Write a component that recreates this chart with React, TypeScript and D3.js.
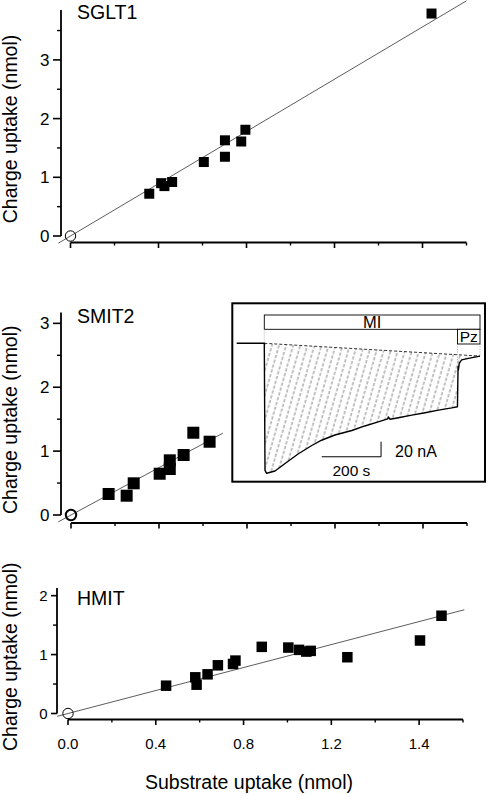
import React from 'react';
import * as d3 from 'd3';

// ---------- data ----------
const sgltX = [0.358, 0.412, 0.427, 0.462, 0.606, 0.702, 0.702, 0.776, 0.795, 1.641];
const sgltY = [0.72, 0.9, 0.85, 0.92, 1.26, 1.63, 1.35, 1.61, 1.81, 3.79];
const sgltSlope = 2.226;
const sgltFitRange = [-0.055, 1.8];

const smitX = [0.171, 0.253, 0.285, 0.403, 0.449, 0.449, 0.512, 0.556, 0.63];
const smitY = [0.329, 0.302, 0.496, 0.646, 0.856, 0.72, 0.939, 1.288, 1.147];
const smitSlope = 1.856;
const smitFitRange = [-0.058, 0.69];

const hmitX = [0.447, 0.58, 0.586, 0.636, 0.683, 0.752, 0.763, 0.883, 1.004, 1.053, 1.086, 1.106, 1.273, 1.604, 1.702];
const hmitY = [0.472, 0.614, 0.489, 0.665, 0.818, 0.841, 0.898, 1.131, 1.119, 1.08, 1.051, 1.063, 0.955, 1.239, 1.659];
const hmitSlope = 0.975;
const hmitFitRange = [-0.05, 1.806];

const xMajorTicks = [0, 0.4, 0.8, 1.2, 1.6];
const xTickLabels = ['0.0', '0.4', '0.8', '1.2', '1.4'];
const xMinorTicks = [0.2, 0.6, 1.0, 1.4, 1.8];

const yMajorTop = [0, 1, 2, 3];
const yMinorTop = [0.5, 1.5, 2.5, 3.5];
const yMajorMid = [0, 1, 2, 3];
const yMinorMid = [0.5, 1.5, 2.5];
const yMajorBot = [0, 1, 2];
const yMinorBot = [0.5, 1.5];

const panelNames = ['SGLT1', 'SMIT2', 'HMIT'];
const yTitle = 'Charge uptake (nmol)';
const xTitle = 'Substrate uptake (nmol)';

// inset trace: time (s), current (nA)
const traceT = [0, 93, 95.4, 101, 129, 163, 208, 253, 286, 331, 388, 432, 477, 509, 511, 517, 545, 590, 635, 680, 725, 744, 746, 747, 748, 750, 758, 781, 820];
const traceI = [0, 0, -169, -173, -170, -160, -147, -136, -129, -122, -116, -110, -104.5, -100.5, -98, -101, -99, -95.6, -92.5, -89, -86, -84.5, -31, -35.6, -33, -26.7, -22, -20, -17];
const driftT = [93, 820];
const driftI = [0, -17];
const miPeriod = [93, 820];
const pzPeriod = [744, 820];
const scaleBarT = [486.5, 286.5];
const scaleBarI = [-131, -151];

const FONT = '"Liberation Sans", Arial, Helvetica, sans-serif';

type PanelProps = {
  idx: number;
  xs: number[];
  ys: number[];
  slope: number;
  fit: number[];
  xRange: [number, number];
  xAxisY: number;
  yTop: number;
  yRange: [number, number];
  yAxisX: number;
  yMajor: number[];
  yMinor: number[];
  sq: number;
  circleStroke: number;
  tickFont: number;
  yMajLen: number;
  showXLabels: boolean;
  labelBaseline: number;
};

function Panel(p: PanelProps) {
  const x = d3.scaleLinear().domain([0, 1.8]).range(p.xRange);
  const y = d3.scaleLinear().domain([0, p.yTop]).range(p.yRange);
  const fitLine = d3
    .line<number>()
    .x((d) => x(d))
    .y((d) => y(d * p.slope));
  const yTitleCenter = (y(0) + y(p.yTop)) / 2 + 6;
  return (
    <g>
      {/* y axis */}
      <line x1={p.yAxisX} x2={p.yAxisX} y1={y(0)} y2={y(p.yTop)} stroke="#000" strokeWidth={1.8} />
      {p.yMajor.map((v) => (
        <g key={'ym' + v}>
          <line x1={p.yAxisX - p.yMajLen} x2={p.yAxisX} y1={y(v)} y2={y(v)} stroke="#000" strokeWidth={1.6} />
          <text
            x={p.yAxisX - p.yMajLen - 3.5}
            y={y(v)}
            dy="0.36em"
            textAnchor="end"
            fontSize={p.tickFont}
            fontFamily={FONT}
          >
            {v}
          </text>
        </g>
      ))}
      {p.yMinor.map((v) => (
        <line key={'yn' + v} x1={p.yAxisX - 4} x2={p.yAxisX} y1={y(v)} y2={y(v)} stroke="#000" strokeWidth={1.4} />
      ))}
      {/* x axis */}
      <line x1={x(0)} x2={x(1.8)} y1={p.xAxisY} y2={p.xAxisY} stroke="#000" strokeWidth={1.8} />
      {xMajorTicks.map((v, i) => (
        <g key={'xm' + v}>
          <line x1={x(v)} x2={x(v)} y1={p.xAxisY} y2={p.xAxisY + 5.5} stroke="#000" strokeWidth={1.6} />
          {p.showXLabels && (
            <text x={x(v)} y={p.xAxisY + 29.5} textAnchor="middle" fontSize={15} fontFamily={FONT}>
              {xTickLabels[i]}
            </text>
          )}
        </g>
      ))}
      {xMinorTicks.map((v) => (
        <line key={'xn' + v} x1={x(v)} x2={x(v)} y1={p.xAxisY} y2={p.xAxisY + 3} stroke="#000" strokeWidth={1.4} />
      ))}
      {/* fit line */}
      <path d={fitLine(p.fit) || ''} stroke="#333" strokeWidth={0.8} fill="none" />
      {/* origin circle */}
      <circle cx={x(0)} cy={y(0)} r={5.2} fill="none" stroke="#000" strokeWidth={p.circleStroke} />
      {/* squares */}
      {p.xs.map((v, i) => (
        <rect
          key={i}
          x={x(v) - p.sq / 2}
          y={y(p.ys[i]) - p.sq / 2}
          width={p.sq}
          height={p.sq}
          fill="#000"
        />
      ))}
      {/* panel label */}
      <text x={77} y={p.labelBaseline} fontSize={19.5} fontFamily={FONT}>
        {panelNames[p.idx]}
      </text>
      {/* y title */}
      <text
        transform={`translate(16.5,${yTitleCenter}) rotate(-90)`}
        textAnchor="middle"
        fontSize={19.5}
        fontFamily={FONT}
      >
        {yTitle}
      </text>
    </g>
  );
}

function Inset() {
  const t = d3.scaleLinear().domain([0, 820]).range([236.7, 480]);
  const c = d3.scaleLinear().domain([0, -173]).range([343.3, 473.3]);
  const trace = d3
    .line<number>()
    .x((d) => t(traceT[d]))
    .y((d) => c(traceI[d]));
  const idx = traceT.map((_, i) => i);
  const drift = d3
    .line<number>()
    .x((d) => t(driftT[d]))
    .y((d) => c(driftI[d]));
  const startIdx = traceT.findIndex((v) => v >= miPeriod[0]);
  const areaPts: [number, number][] = [];
  for (let i = startIdx; i < traceT.length; i++) areaPts.push([t(traceT[i]), c(traceI[i])]);
  for (let k = driftT.length - 1; k >= 0; k--) areaPts.push([t(driftT[k]), c(driftI[k])]);
  const areaPath = 'M' + areaPts.map((q) => q.join(',')).join('L') + 'Z';

  const barTop = 315;
  const barBot = 329.3;
  const pzBot = 344;
  return (
    <g>
      <defs>
        <pattern
          id="hatch"
          patternUnits="userSpaceOnUse"
          width={6.8}
          height={10}
          patternTransform="rotate(16)"
        >
          <line x1={3} y1={0} x2={3} y2={10} stroke="#333" strokeWidth={0.6} strokeDasharray="3.4 1.6" />
        </pattern>
      </defs>
      <rect x={232.3} y={303.3} width={252.7} height={178.4} fill="#fff" stroke="#000" strokeWidth={2} />
      {/* MI bar */}
      <rect
        x={t(miPeriod[0])}
        y={barTop}
        width={t(miPeriod[1]) - t(miPeriod[0])}
        height={barBot - barTop}
        fill="#fff"
        stroke="#000"
        strokeWidth={0.9}
      />
      <text x={(t(miPeriod[0]) + t(miPeriod[1])) / 2} y={327.5} textAnchor="middle" fontSize={16.5} fontFamily={FONT}>
        MI
      </text>
      {/* Pz box */}
      <rect
        x={t(pzPeriod[0])}
        y={barBot}
        width={t(pzPeriod[1]) - t(pzPeriod[0])}
        height={pzBot - barBot}
        fill="#fff"
        stroke="#000"
        strokeWidth={0.9}
      />
      <text x={(t(pzPeriod[0]) + t(pzPeriod[1])) / 2} y={341.8} textAnchor="middle" fontSize={15.5} fontFamily={FONT}>
        Pz
      </text>
      {/* dotted guides */}
      <line x1={t(pzPeriod[0])} x2={t(pzPeriod[0])} y1={pzBot} y2={c(-26)} stroke="#777" strokeWidth={0.6} strokeDasharray="1 1.5" />
      <line x1={t(pzPeriod[1])} x2={t(pzPeriod[1])} y1={pzBot} y2={c(driftI[1])} stroke="#777" strokeWidth={0.6} strokeDasharray="1 1.5" />
      <line x1={t(miPeriod[0])} x2={t(miPeriod[0])} y1={barBot} y2={c(0)} stroke="#bbb" strokeWidth={0.5} />
      {/* hatched area */}
      <path d={areaPath} fill="url(#hatch)" stroke="none" />
      {/* drift baseline */}
      <path d={drift([0, 1]) || ''} fill="none" stroke="#000" strokeWidth={0.8} strokeDasharray="3 2" />
      {/* trace */}
      <path d={trace(idx) || ''} fill="none" stroke="#000" strokeWidth={1.4} strokeLinejoin="round" />
      {/* scale bar */}
      <line x1={t(scaleBarT[0])} x2={t(scaleBarT[0])} y1={c(scaleBarI[0])} y2={c(scaleBarI[1])} stroke="#000" strokeWidth={1} />
      <line x1={t(scaleBarT[0])} x2={t(scaleBarT[1])} y1={c(scaleBarI[1])} y2={c(scaleBarI[1])} stroke="#000" strokeWidth={1} />
      <text x={t(scaleBarT[0]) + 14} y={c(scaleBarI[1])} fontSize={16} fontFamily={FONT}>
        20 nA
      </text>
      <text
        x={(t(scaleBarT[0]) + t(scaleBarT[1])) / 2}
        y={c(scaleBarI[1]) + 19.3}
        textAnchor="middle"
        fontSize={15.5}
        fontFamily={FONT}
      >
        200 s
      </text>
    </g>
  );
}

export default function App() {
  return (
    <svg
      width={490}
      height={796}
      style={{ position: 'absolute', left: 0, top: 0, background: '#fff' }}
      xmlns="http://www.w3.org/2000/svg"
    >
      <rect x={0} y={0} width={490} height={796} fill="#fff" />
      <Panel
        idx={0}
        xs={sgltX}
        ys={sgltY}
        slope={sgltSlope}
        fit={sgltFitRange}
        xRange={[70.5, 466.5]}
        xAxisY={242.5}
        yTop={3.85}
        yRange={[236, 10]}
        yAxisX={61}
        yMajor={yMajorTop}
        yMinor={yMinorTop}
        sq={10}
        circleStroke={1}
        tickFont={17}
        yMajLen={8}
        showXLabels={false}
        labelBaseline={18.5}
      />
      <Panel
        idx={1}
        xs={smitX}
        ys={smitY}
        slope={smitSlope}
        fit={smitFitRange}
        xRange={[71, 467]}
        xAxisY={523}
        yTop={3.17}
        yRange={[515, 312.5]}
        yAxisX={61}
        yMajor={yMajorMid}
        yMinor={yMinorMid}
        sq={12}
        circleStroke={2}
        tickFont={17}
        yMajLen={8}
        showXLabels={false}
        labelBaseline={322.5}
      />
      <Panel
        idx={2}
        xs={hmitX}
        ys={hmitY}
        slope={hmitSlope}
        fit={hmitFitRange}
        xRange={[68, 463]}
        xAxisY={719.5}
        yTop={2.13}
        yRange={[713.5, 588]}
        yAxisX={57}
        yMajor={yMajorBot}
        yMinor={yMinorBot}
        sq={10.5}
        circleStroke={1}
        tickFont={15}
        yMajLen={6}
        showXLabels={true}
        labelBaseline={605}
      />
      <text x={249} y={789} textAnchor="middle" fontSize={19.5} fontFamily={FONT}>
        {xTitle}
      </text>
      <Inset />
    </svg>
  );
}
